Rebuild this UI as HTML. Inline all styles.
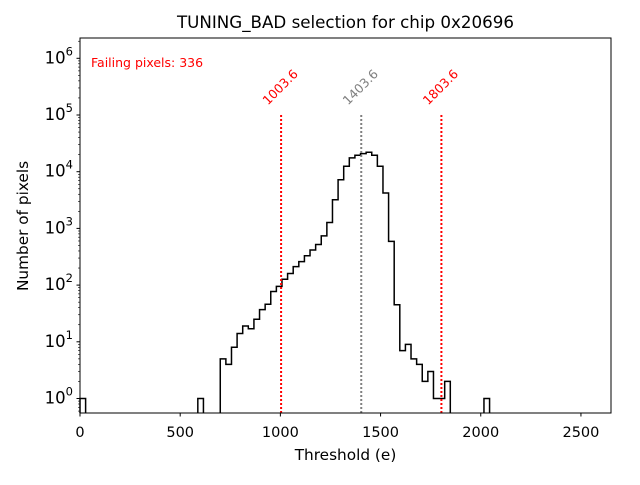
<!DOCTYPE html>
<html><head><meta charset="utf-8"><style>
body{margin:0;background:#fff}
svg text{font-family:"DejaVu Sans","Liberation Sans",sans-serif}
</style></head><body>
<svg id="chart" width="640" height="480" xmlns="http://www.w3.org/2000/svg">
<rect width="640" height="480" fill="#fff"/>
<text x="345.5" y="28" font-size="16.7" text-anchor="middle" fill="#000">TUNING_BAD selection for chip 0x20696</text>
<g id="plot"></g>
<text x="345.5" y="460" font-size="15.3" text-anchor="middle">Threshold (e)</text>
<text transform="translate(28,226) rotate(-90)" font-size="15.3" text-anchor="middle">Number of pixels</text>
<text x="91" y="67" font-size="12.5" fill="#ff0000">Failing pixels: 336</text>
</svg>
<script>
const binWidth = 28;
const binStarts = [0,588,700,728,756,784,812,840,868,896,924,952,980,1008,1036,1064,1092,1120,1148,1176,1204,1232,1260,1288,1316,1344,1372,1400,1428,1456,1484,1512,1540,1568,1596,1624,1652,1680,1708,1736,1764,1792,1820,2016];
const counts = [1,1,5,4,8,14,19,17,25,37,46,77,95,127,160,212,260,330,415,520,740,1270,3200,7200,12500,17500,19500,20800,22000,19500,12500,4200,590,45,7,9,5,4,2,3,1,1,2,1];
const xTicks = [0,500,1000,1500,2000,2500];
const yTickExps = [0,1,2,3,4,5,6];
const vLines = [1003.6,1403.6,1803.6];
const vLineLabels = ["1003.6","1403.6","1803.6"];
const vLineColors = ["#ff0000","#808080","#ff0000"];

const L=80,R=611,T=38,B=413;
const xMax=2650;
const X=v=>L+(v/xMax)*(R-L);
const Y=v=>398.5-56.7*Math.log10(v);
const ns="http://www.w3.org/2000/svg";
const g=document.getElementById('plot');
function mk(t,a){const e=document.createElementNS(ns,t);for(const k in a)e.setAttribute(k,a[k]);g.appendChild(e);return e;}

let d="";let prevEnd=null;
binStarts.forEach((s,i)=>{
  const x0=X(s),x1=X(s+binWidth),y=Y(counts[i]);
  if(prevEnd===null||Math.abs(prevEnd-s)>0.01){d+=`M${x0},${B}L${x0},${y}`;}
  else d+=`L${x0},${y}`;
  d+=`L${x1},${y}`;
  const next=binStarts[i+1];
  if(next===undefined||Math.abs(next-(s+binWidth))>0.01)d+=`L${x1},${B}`;
  prevEnd=s+binWidth;
});
const hp=mk('path',{d:d,fill:'none',stroke:'#000','stroke-width':1.5});



vLines.forEach((v,i)=>{
  const ln=mk('line',{x1:X(v),x2:X(v),y1:Y(1e5),y2:B,stroke:vLineColors[i],'stroke-width':2,'stroke-dasharray':'2,2'});
  
  
  const t=mk('text',{transform:`translate(${X(v)-1},87) rotate(-45)`,'text-anchor':'middle','dominant-baseline':'central','font-size':12.5,fill:vLineColors[i]});
  t.textContent=vLineLabels[i];
  
  
});

const fr=mk('rect',{x:L,y:T,width:R-L,height:B-T,fill:'none',stroke:'#000','stroke-width':1});



xTicks.forEach(v=>{
  mk('line',{x1:X(v),x2:X(v),y1:B,y2:B+3.5,stroke:'#000'});
  const t=mk('text',{x:X(v),y:B+24,'text-anchor':'middle','font-size':14.5});
  t.textContent=v;
  
  
});
yTickExps.forEach(e=>{
  const y=Y(Math.pow(10,e));
  mk('line',{x1:L-3.5,x2:L,y1:y,y2:y,stroke:'#000'});
  const t=mk('text',{x:L-7,y:y+5,'text-anchor':'end','font-size':16.5});
  t.innerHTML='10<tspan font-size="11.5" dy="-8">'+e+'</tspan>';
  
  
});
for(let e=-1;e<=6;e++){for(let m=2;m<=9;m++){const v=m*Math.pow(10,e);const y=Y(v);if(y<T||y>B)continue;mk('line',{x1:L-2,x2:L,y1:y,y2:y,stroke:'#000','stroke-width':0.6});}}
</script>
</body></html>
